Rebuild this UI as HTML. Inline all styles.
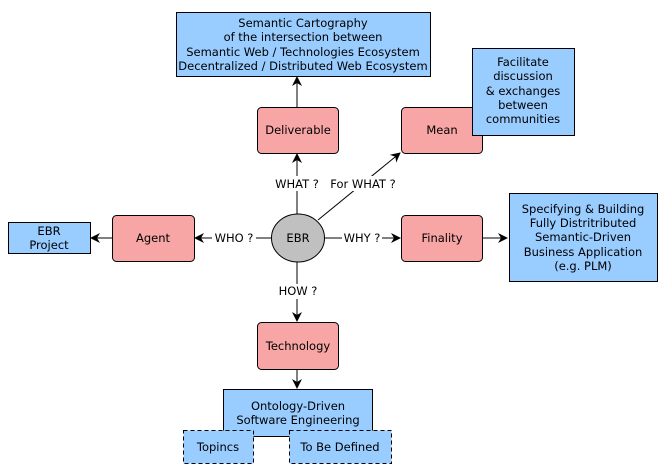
<!DOCTYPE html>
<html><head><meta charset="utf-8"><style>
html,body{margin:0;padding:0;background:#fff;}
svg{display:block;}
text{font-family:"DejaVu Sans","Liberation Sans",sans-serif;font-size:11.5px;fill:#000;}
</style></head><body>
<svg width="665" height="472" viewBox="0 0 665 472" xmlns="http://www.w3.org/2000/svg">
<defs>
<marker id="a" markerWidth="10" markerHeight="10" refX="9" refY="5" orient="auto" markerUnits="userSpaceOnUse">
<path d="M0,0 L10,5 L0,10 L3,5 Z" fill="#000"/>
</marker>
</defs>
<g stroke="#000" stroke-width="1" fill="none">
<line x1="297" y1="214" x2="297" y2="154" marker-end="url(#a)"/>
<line x1="297" y1="107" x2="297" y2="77" marker-end="url(#a)"/>
<line x1="318" y1="220" x2="400" y2="153" marker-end="url(#a)"/>
<line x1="271" y1="238" x2="195" y2="238" marker-end="url(#a)"/>
<line x1="112" y1="238" x2="91" y2="238" marker-end="url(#a)"/>
<line x1="324" y1="238" x2="400" y2="238" marker-end="url(#a)"/>
<line x1="482" y1="238" x2="507" y2="238" marker-end="url(#a)"/>
<line x1="297" y1="262" x2="297" y2="321" marker-end="url(#a)"/>
<line x1="297" y1="369" x2="297" y2="388" marker-end="url(#a)"/>
</g>
<g stroke="#000" stroke-width="1">
<rect x="176.5" y="12.5" width="254" height="64" fill="#99ccff"/>
<rect x="472.5" y="48.5" width="102" height="87" fill="#99ccff"/>
<rect x="257.5" y="107.5" width="81" height="46" rx="4" fill="#f8a5a5"/>
<rect x="401.5" y="107.5" width="81" height="46" rx="4" fill="#f8a5a5"/>
<rect x="472.5" y="48.5" width="102" height="87" fill="#99ccff"/>
<rect x="8.5" y="222.5" width="82" height="31" fill="#99ccff"/>
<rect x="112.5" y="215.5" width="82" height="46" rx="4" fill="#f8a5a5"/>
<rect x="401.5" y="215.5" width="81" height="46" rx="4" fill="#f8a5a5"/>
<rect x="509.5" y="193.5" width="148" height="88" fill="#99ccff"/>
<ellipse cx="298" cy="238" rx="26.5" ry="24" fill="#c0c0c0"/>
<rect x="257.5" y="322.5" width="81" height="47" rx="4" fill="#f8a5a5"/>
<rect x="223.5" y="389.5" width="149" height="47" fill="#99ccff"/>
<rect x="183.5" y="430.5" width="70" height="33" fill="#99ccff" stroke-dasharray="4,3"/>
<rect x="289.5" y="430.5" width="102" height="33" fill="#99ccff" stroke-dasharray="4,3"/>
</g>
<rect x="266" y="176" width="62" height="15" fill="#fff"/>
<rect x="328" y="176" width="72" height="15" fill="#fff"/>
<rect x="212" y="231" width="44" height="15" fill="#fff"/>
<rect x="342" y="231" width="40" height="15" fill="#fff"/>
<rect x="276" y="284" width="44" height="15" fill="#fff"/>
<g text-anchor="middle">
<text x="303" y="27">Semantic Cartography</text>
<text x="303" y="41">of the intersection between</text>
<text x="303" y="56">Semantic Web / Technologies Ecosystem</text>
<text x="303" y="70">Decentralized / Distributed Web Ecosystem</text>
<text x="523" y="66">Facilitate</text>
<text x="523" y="80">discussion</text>
<text x="523" y="95">&amp; exchanges</text>
<text x="523" y="109">between</text>
<text x="523" y="123">communities</text>
<text x="298" y="134">Deliverable</text>
<text x="442" y="134">Mean</text>
<text x="297" y="188">WHAT ?</text>
<text x="363" y="188">For WHAT ?</text>
<text x="49" y="235">EBR</text>
<text x="49" y="249">Project</text>
<text x="153" y="242">Agent</text>
<text x="234" y="242">WHO ?</text>
<text x="298" y="242">EBR</text>
<text x="362" y="242">WHY ?</text>
<text x="442" y="242">Finality</text>
<text x="583" y="213">Specifying &amp; Building</text>
<text x="583" y="227">Fully Distritributed</text>
<text x="583" y="241">Semantic-Driven</text>
<text x="583" y="256">Business Application</text>
<text x="583" y="270">(e.g. PLM)</text>
<text x="298" y="295">HOW ?</text>
<text x="298" y="350">Technology</text>
<text x="298" y="410">Ontology-Driven</text>
<text x="298" y="424">Software Engineering</text>
<text x="218" y="451">Topincs</text>
<text x="340" y="451">To Be Defined</text>
</g>
</svg>
</body></html>
